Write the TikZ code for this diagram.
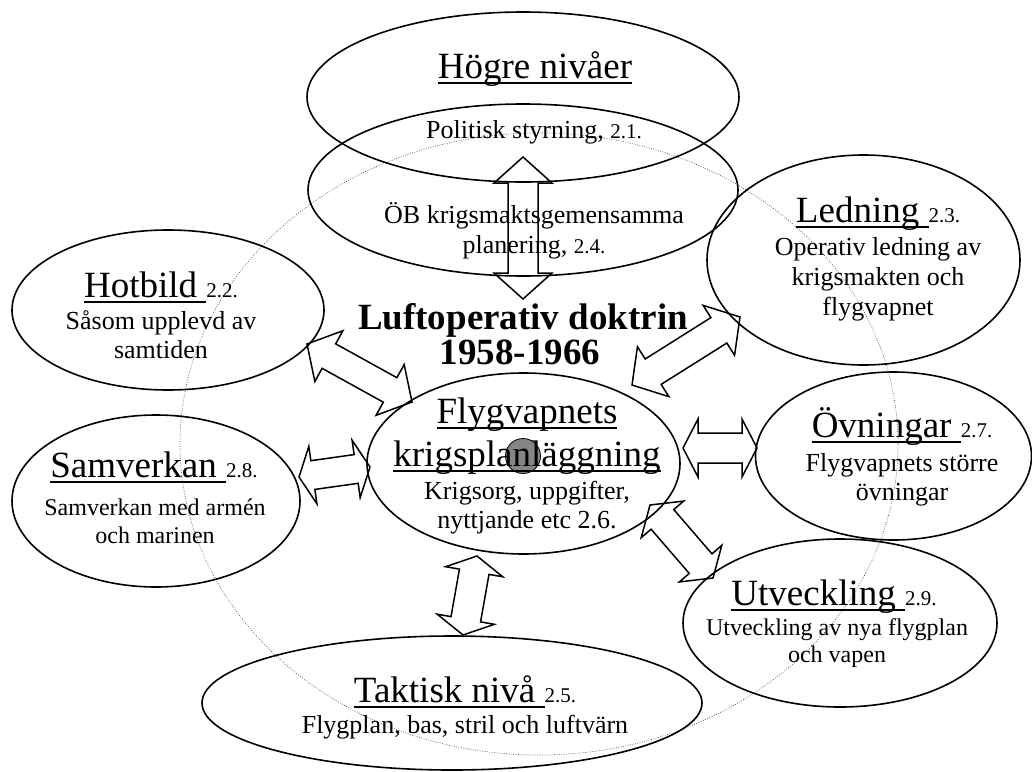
\documentclass[tikz,border=0pt]{standalone}
\usepackage{fontspec}
\setmainfont{Liberation Serif}
\usetikzlibrary{shapes.geometric,calc}
\newsavebox\ulbox
\newcommand\ulx[1]{\sbox\ulbox{#1}\rlap{\rule[-5.8pt]{\wd\ulbox}{1.5pt}}\usebox\ulbox}
\newcommand\fhd{\fontsize{37}{40}\selectfont}
\newcommand\fbd{\fontsize{26}{30}\selectfont}
\newcommand\fbs{\fontsize{24}{28}\selectfont}
\newcommand\fnr{\fontsize{21}{24}\selectfont}
\newcommand\fti{\fontsize{37}{40}\selectfont\bfseries}
% double block arrow between two named coordinates: #3 half shaft, #4 half head, #5 head length
\newcommand\blockarr[5]{%
 \draw[blk] (#1)
 -- ($(#1)!#5!(#2)!#4!90:(#2)$)
 -- ($(#1)!#5!(#2)!#3!90:(#2)$)
 -- ($(#2)!#5!(#1)!#3!-90:(#1)$)
 -- ($(#2)!#5!(#1)!#4!-90:(#1)$)
 -- (#2)
 -- ($(#2)!#5!(#1)!#4!90:(#1)$)
 -- ($(#2)!#5!(#1)!#3!90:(#1)$)
 -- ($(#1)!#5!(#2)!#3!-90:(#2)$)
 -- ($(#1)!#5!(#2)!#4!-90:(#2)$)
 -- cycle;}
\begin{document}
\begin{tikzpicture}[x=1pt,y=-1pt,
 ell/.style={draw, ellipse, line width=1.6pt, inner sep=0pt},
 txt/.style={anchor=base, inner sep=0pt},
 blk/.style={draw, line width=1.5pt, line join=miter},
 dotc/.style={draw=black!75, line width=0.6pt, dash pattern=on 0.8pt off 1.6pt}]
\useasboundingbox (0,0) rectangle (1032,771);
% big dotted ring
\draw[dotc] (539,444) ellipse [x radius=359pt, y radius=311pt];
% ellipses
\node[ell, minimum width=432pt, minimum height=170pt] (hogre) at (523,97) {};
\node[ell, minimum width=430pt, minimum height=172pt] (ob) at (523,190) {};
\node[ell, minimum width=312pt, minimum height=160pt] (hot) at (168,310) {};
\node[ell, minimum width=288pt, minimum height=172pt] (sam) at (156,501) {};
\node[ell, minimum width=313pt, minimum height=181pt] (flyg) at (523.5,463.5) {};
\node[ell, minimum width=313pt, minimum height=210pt] (led) at (863.5,260) {};
\node[ell, minimum width=276pt, minimum height=168pt] (ov) at (893.5,456) {};
\node[ell, minimum width=314pt, minimum height=168pt] (utv) at (840,623) {};
\node[ell, minimum width=500pt, minimum height=134pt] (tak) at (452,703) {};
% grey dot
\node[circle, draw, line width=0.8pt, fill=black!48, minimum size=35pt, inner sep=0pt] (dot) at (523,456) {};
% texts
\node[txt] (t1a) at (535,78) {\fhd\ulx{Högre nivåer}};
\node[txt] (t1b) at (534,138) {\fbd Politisk styrning, {\fnr 2.1.}};
\node[txt] (t2a) at (534,223) {\fbd ÖB krigsmaktsgemensamma};
\node[txt] (t2b) at (534,253) {\fbd planering, {\fnr 2.4.}};
\node[txt] (t3a) at (523,329) {\fti Luftoperativ doktrin};
\node[txt] (t3b) at (520,364) {\fti 1958-1966};
\node[txt] (t4a) at (161,297) {\fhd\ulx{Hotbild\ }{\fnr 2.2.}};
\node[txt] (t4b) at (161,329) {\fbd Såsom upplevd av};
\node[txt] (t4c) at (161,358) {\fbd samtiden};
\node[txt] (t5a) at (154,477) {\fhd\ulx{Samverkan\ }{\fnr 2.8.}};
\node[txt] (t5b) at (155,515) {\fbs Samverkan med armén};
\node[txt] (t5c) at (155,543) {\fbs och marinen};
\node[txt] (t6a) at (527,423) {\fhd\ulx{Flygvapnets}};
\node[txt] (t6b) at (527,466) {\fhd\ulx{krigsplanläggning}};
\node[txt] (t6c) at (527,499) {\fbd Krigsorg, uppgifter,};
\node[txt] (t6d) at (527,528) {\fbd nyttjande etc 2.6.};
\node[txt] (t7a) at (878,222) {\fhd\ulx{Ledning\ }{\fnr 2.3.}};
\node[txt] (t7b) at (878,255) {\fbd Operativ ledning av};
\node[txt] (t7c) at (878,285) {\fbd krigsmakten och};
\node[txt] (t7d) at (878,315) {\fbd flygvapnet};
\node[txt] (t8a) at (902,437) {\fhd\ulx{Övningar\ }{\fnr 2.7.}};
\node[txt] (t8b) at (902,471) {\fbd Flygvapnets större};
\node[txt] (t8c) at (902,500) {\fbd övningar};
\node[txt] (t9a) at (834,605) {\fhd\ulx{Utveckling\ }{\fnr 2.9.}};
\node[txt] (t9b) at (837,635) {\fbs Utveckling av nya flygplan};
\node[txt] (t9c) at (837,662) {\fbs och vapen};
\node[txt] (t10a) at (465,702) {\fhd\ulx{Taktisk nivå\ }{\fnr 2.5.}};
\node[txt] (t10b) at (465,733) {\fbd Flygplan, bas, stril och luftvärn};
% arrow end points
\coordinate (a1s) at (523,157); \coordinate (a1e) at (523,299);
\coordinate (a2s) at (307,344); \coordinate (a2e) at (412,402);
\coordinate (a3s) at (299,477); \coordinate (a3e) at (370,467);
\coordinate (a4s) at (632,385); \coordinate (a4e) at (740,317);
\coordinate (a5s) at (683,448); \coordinate (a5e) at (757,448);
\coordinate (a6s) at (650,505); \coordinate (a6e) at (713,578);
\coordinate (a7s) at (477,556); \coordinate (a7e) at (463,635);
\blockarr{a1s}{a1e}{15pt}{29pt}{26pt}
\blockarr{a2s}{a2e}{14pt}{29pt}{25pt}
\blockarr{a3s}{a3e}{14.5pt}{29pt}{14pt}
\blockarr{a4s}{a4e}{15pt}{29.5pt}{25pt}
\blockarr{a5s}{a5e}{15pt}{29pt}{15pt}
\blockarr{a6s}{a6e}{15pt}{28pt}{19pt}
\blockarr{a7s}{a7e}{15pt}{29pt}{16pt}
\end{tikzpicture}
\end{document}
